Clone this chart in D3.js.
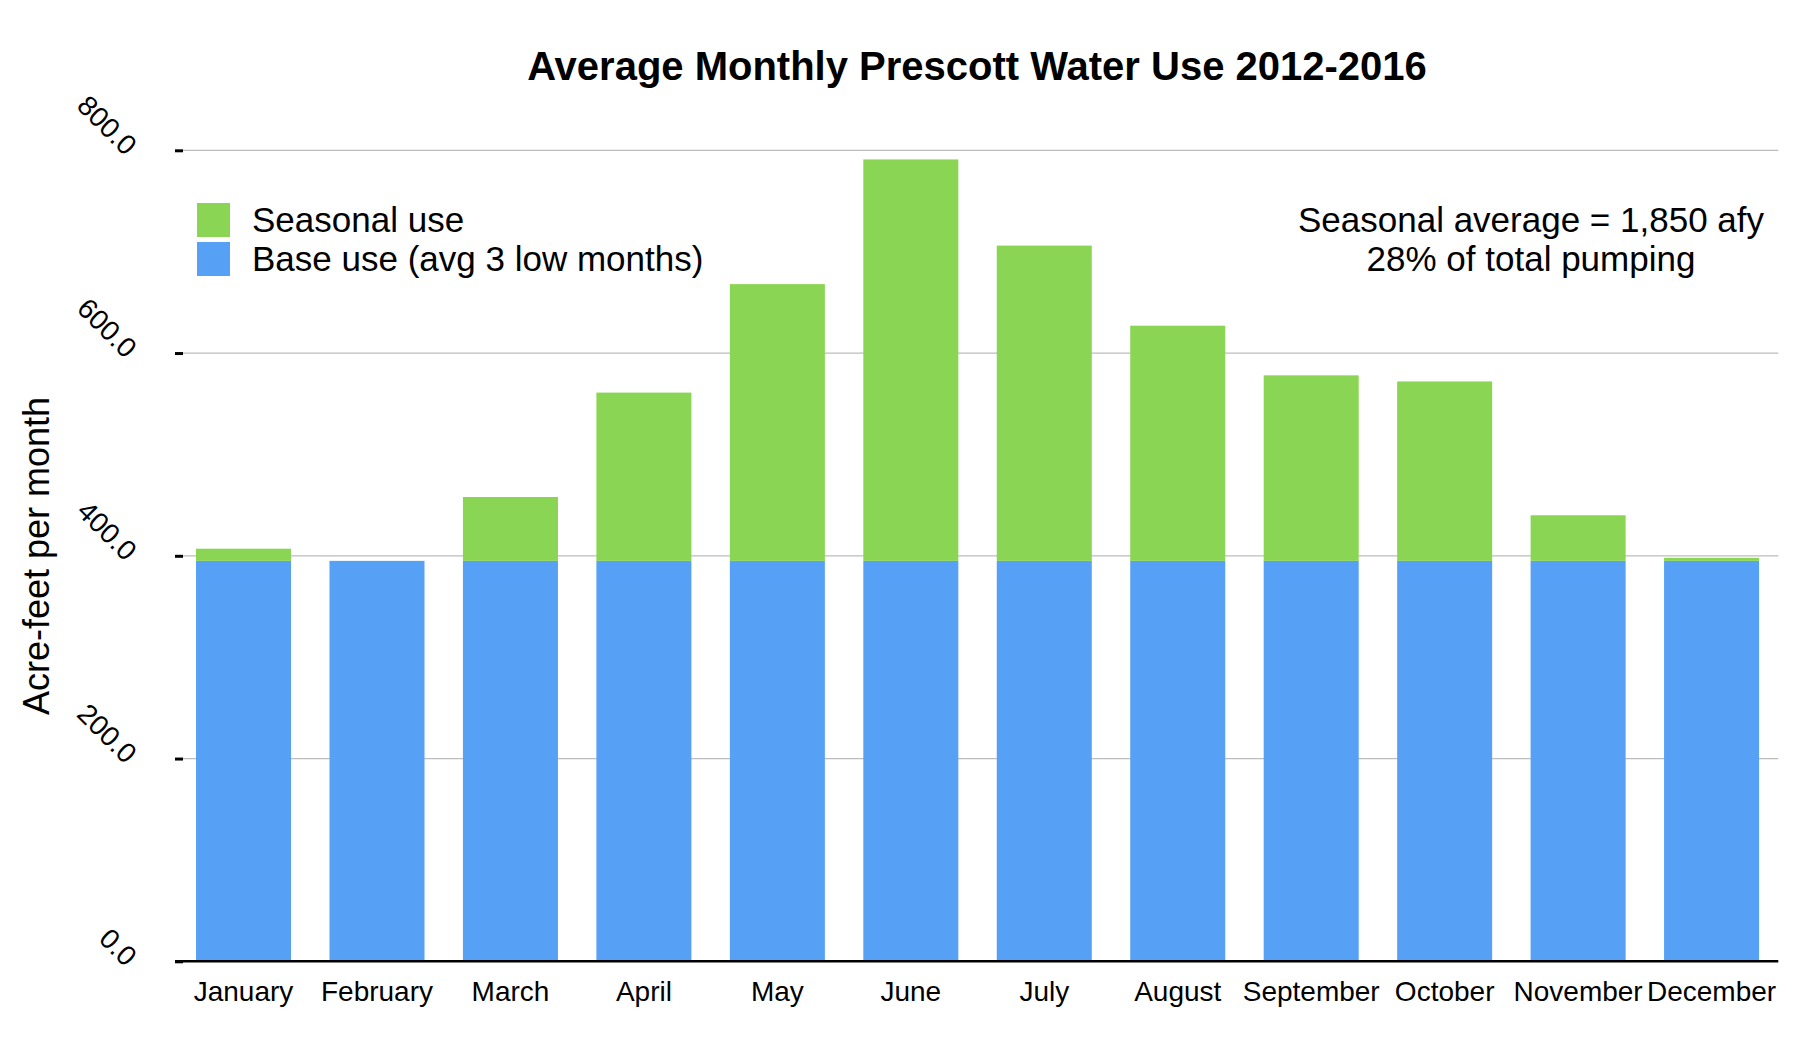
<!DOCTYPE html>
<html>
<head>
<meta charset="utf-8">
<script src="https://cdn.jsdelivr.net/npm/d3@7"></script>
<style>
  html, body { margin: 0; padding: 0; background: #fff; }
  svg { display: block; font-family: "Liberation Sans", Arial, Helvetica, sans-serif; }
</style>
</head>
<body>
<svg id="chart" width="1808" height="1040"></svg>
<script>
const months = ["January","February","March","April","May","June","July","August","September","October","November","December"];
const baseUse = [395,395,395,395,395,395,395,395,395,395,395,395];
const seasonalUse = [12,0,63,166,273,396,311,232,183,177,45,3];
const yTicks = [0,200,400,600,800];
const seriesNames = ["Seasonal use","Base use (avg 3 low months)"];
const seriesColors = ["#8AD554","#56A1F5"];
const titleText = "Average Monthly Prescott Water Use 2012-2016";
const yTitle = "Acre-feet per month";
const noteLines = ["Seasonal average = 1,850 afy","28% of total pumping"];

const svg = d3.select("#chart");
const plotLeft = 176.8, plotRight = 1778.3, plotTop = 150.3, plotBottom = 961.3;

const x = d3.scaleBand().domain(months).range([plotLeft, plotRight]).paddingInner(0.288).paddingOuter(0.144);
const y = d3.scaleLinear().domain([0, 800]).range([plotBottom, plotTop]);

// gridlines
svg.append("g").selectAll("line").data(yTicks.filter(d => d > 0)).join("line")
  .attr("x1", 183).attr("x2", plotRight)
  .attr("y1", d => y(d)).attr("y2", d => y(d))
  .attr("stroke", "#bdbdbd").attr("stroke-width", 1.3);

// y axis with ticks
const yAxis = d3.axisLeft(y).tickValues(yTicks).tickSize(8).tickFormat(d3.format(".1f"));
const ya = svg.append("g").attr("transform", "translate(183,0)").call(yAxis);
ya.select(".domain").remove();
ya.selectAll(".tick line").attr("stroke", "#000").attr("stroke-width", 3);
ya.selectAll(".tick text")
  .attr("x", null).attr("dy", null)
  .attr("text-anchor", "end")
  .attr("transform", "translate(-58,6) rotate(45)")
  .attr("font-size", 28)
  .attr("font-family", "Liberation Sans, Arial, sans-serif")
  .attr("fill", "#000");

// stacked bars
const data = months.map((m, i) => ({month: m, base: baseUse[i], seasonal: seasonalUse[i]}));
const stack = d3.stack().keys(["base","seasonal"])(data);
const colorByKey = {base: seriesColors[1], seasonal: seriesColors[0]};
svg.append("g").selectAll("g").data(stack).join("g")
  .attr("fill", d => colorByKey[d.key])
  .selectAll("rect").data(d => d).join("rect")
  .attr("x", d => x(d.data.month))
  .attr("width", x.bandwidth())
  .attr("y", d => y(d[1]))
  .attr("height", d => Math.max(0, y(d[0]) - y(d[1])));

// baseline
svg.append("line").attr("x1", 175).attr("x2", plotRight)
  .attr("y1", plotBottom).attr("y2", plotBottom)
  .attr("stroke", "#000").attr("stroke-width", 2.5);

// x axis labels
const xAxis = d3.axisBottom(x).tickSize(0).tickPadding(0);
const xa = svg.append("g").attr("transform", `translate(0,${plotBottom})`).call(xAxis);
xa.select(".domain").remove();
xa.selectAll(".tick text").attr("y", 40).attr("dy", null)
  .attr("font-size", 28).attr("fill", "#000")
  .attr("font-family", "Liberation Sans, Arial, sans-serif");

// title
svg.append("text").attr("x", 977).attr("y", 80).attr("text-anchor", "middle")
  .attr("font-size", 40).attr("font-weight", "bold").text(titleText);

// y title
svg.append("text").attr("transform", "translate(49,556) rotate(-90)")
  .attr("text-anchor", "middle").attr("font-size", 36).text(yTitle);

// legend
const legend = svg.append("g");
seriesNames.forEach((name, i) => {
  const yy = 203 + i * 39;
  legend.append("rect").attr("x", 197).attr("y", yy).attr("width", 33).attr("height", 34).attr("fill", seriesColors[i]);
  legend.append("text").attr("x", 252).attr("y", yy + 29).attr("font-size", 35).text(name);
});

// annotation
noteLines.forEach((t, i) => {
  svg.append("text").attr("x", 1531).attr("y", 232 + i * 39).attr("text-anchor", "middle")
    .attr("font-size", 35).text(t);
});
</script>
</body>
</html>
